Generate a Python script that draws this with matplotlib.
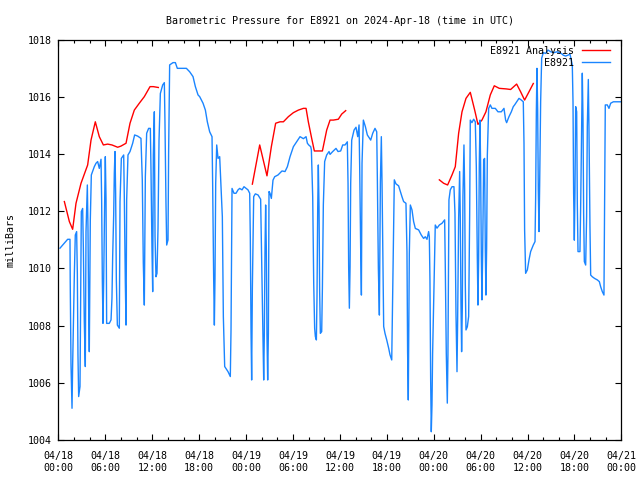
#!/usr/bin/env python3
# barometric pressure plot, gnuplot look-alike
import matplotlib
matplotlib.use("Agg")
import matplotlib.pyplot as plt
import matplotlib.dates as mdates
import numpy as np

START = np.datetime64("2024-04-18T00:00")
END = np.datetime64("2024-04-21T00:00")

# station readings: hours since 04/18 00:00 UTC, pressure in mb
obs_hours = [
    0.19, 1.17, 1.47, 1.50, 1.60, 1.73, 1.81, 2.03, 2.15, 2.32, 2.41, 2.49, 2.58, 2.75, 2.84,
    2.92, 3.09, 3.18, 3.30, 3.43, 3.52, 3.69, 3.77, 3.86, 3.94, 4.07, 4.20, 4.58, 4.80, 5.01,
    5.22, 5.44, 5.52, 5.61, 5.69, 5.78, 5.91, 5.99, 6.08, 6.16, 6.50, 6.72, 6.84, 6.93, 7.06,
    7.14, 7.23, 7.31, 7.40, 7.53, 7.78, 7.87, 8.04, 8.34, 8.42, 8.55, 8.64, 8.72, 8.89, 9.15,
    9.49, 9.74, 10.13, 10.55, 10.72, 10.85, 10.98, 11.11, 11.28, 11.53, 11.75, 11.83, 11.96,
    12.05, 12.13, 12.26, 12.35, 12.47, 12.60, 12.73, 12.86, 13.03, 13.33, 13.54, 13.62, 13.75,
    13.84, 14.01, 14.09, 14.22, 14.65, 14.95, 15.20, 16.36, 16.78, 17.21, 17.51, 17.85, 18.06,
    18.49, 18.79, 19.04, 19.34, 19.64, 19.72, 19.85, 19.94, 20.02, 20.11, 20.24, 20.41, 20.62,
    20.71, 20.96, 21.09, 21.26, 21.69, 21.98, 22.07, 22.20, 22.45, 22.71, 22.97, 23.18, 23.48,
    23.73, 24.24, 24.46, 24.54, 24.63, 24.71, 24.80, 24.97, 25.18, 25.53, 25.86, 25.95, 26.16,
    26.25, 26.33, 26.42, 26.50, 26.59, 26.67, 26.76, 26.85, 26.93, 27.06, 27.23, 27.44, 27.66,
    28.08, 28.59, 28.98, 29.28, 29.62, 30.05, 30.47, 30.90, 31.33, 31.67, 31.84, 32.01, 32.26,
    32.35, 32.52, 32.65, 32.77, 32.86, 32.99, 33.07, 33.16, 33.24, 33.33, 33.41, 33.50, 33.67,
    33.76, 33.88, 34.05, 34.31, 34.61, 34.74, 35.08, 35.50, 35.76, 36.10, 36.36, 36.66, 36.95,
    37.04, 37.12, 37.21, 37.30, 37.38, 37.51, 37.81, 38.06, 38.28, 38.45, 38.53, 38.66, 38.75,
    38.83, 39.00, 39.26, 39.51, 39.94, 40.20, 40.49, 40.71, 40.79, 40.92, 41.05, 41.18, 41.30,
    41.39, 41.52, 41.60, 41.77, 41.99, 42.24, 42.41, 42.63, 42.71, 42.88, 42.96, 43.17, 43.51,
    43.73, 43.94, 44.15, 44.45, 44.58, 44.66, 44.75, 44.88, 45.01, 45.22, 45.43, 45.65, 46.07,
    46.41, 46.71, 46.92, 47.14, 47.35, 47.44, 47.52, 47.61, 47.69, 47.78, 47.86, 47.99, 48.12,
    48.20, 48.42, 48.72, 49.06, 49.40, 49.48, 49.61, 49.74, 49.82, 49.95, 50.12, 50.34, 50.59,
    50.72, 50.85, 50.98, 51.06, 51.19, 51.32, 51.40, 51.49, 51.57, 51.66, 51.74, 51.87, 51.96,
    52.04, 52.13, 52.30, 52.47, 52.60, 52.68, 52.89, 53.11, 53.32, 53.45, 53.58, 53.66, 53.75,
    53.83, 53.92, 54.00, 54.09, 54.17, 54.26, 54.39, 54.51, 54.60, 54.68, 54.77, 54.86, 55.03,
    55.24, 55.45, 55.88, 56.22, 56.65, 56.99, 57.20, 57.33, 57.63, 57.93, 58.18, 58.35, 58.61,
    58.91, 59.21, 59.46, 59.55, 59.63, 59.76, 59.98, 60.19, 60.40, 60.74, 60.96, 61.04, 61.13,
    61.21, 61.30, 61.38, 61.47, 61.55, 61.68, 61.81, 62.02, 62.32, 62.62, 62.96, 63.39, 63.81,
    64.32, 64.58, 64.88, 65.18, 65.43, 65.73, 65.82, 65.90, 65.99, 66.07, 66.16, 66.29, 66.37,
    66.46, 66.71, 66.80, 66.93, 67.01, 67.10, 67.18, 67.27, 67.44, 67.56, 67.65, 67.78, 67.86,
    67.99, 68.08, 68.29, 68.59, 68.93, 69.19, 69.36, 69.57, 69.78, 69.87, 69.95, 70.21, 70.42,
    70.64, 70.98, 71.70, 72.00,
]
obs_mb = [
    1010.71, 1011.02, 1011.02, 1009.54, 1006.63, 1005.11, 1006.63, 1009.83, 1011.17, 1011.29,
    1009.83, 1006.98, 1005.52, 1005.87, 1009.02, 1011.99, 1012.10, 1010.71, 1008.14, 1006.57,
    1011.29, 1012.92, 1011.46, 1008.61, 1007.09, 1011.70, 1013.27, 1013.56, 1013.68, 1013.74,
    1013.50, 1013.82, 1012.40, 1009.54, 1008.08, 1009.54, 1012.45, 1013.91, 1012.45, 1008.08,
    1008.08, 1008.20, 1008.96, 1010.41, 1011.87, 1013.33, 1014.09, 1012.63, 1009.60, 1008.02,
    1007.91, 1012.34, 1013.85, 1013.97, 1012.51, 1009.48, 1008.02, 1012.40, 1013.97, 1014.09,
    1014.38, 1014.67, 1014.63, 1014.55, 1013.10, 1010.18, 1008.72, 1013.21, 1014.73, 1014.90,
    1014.90, 1013.50, 1010.65, 1009.19, 1013.97, 1015.48, 1011.11, 1009.71, 1009.83, 1011.40,
    1014.49, 1016.12, 1016.42, 1016.50, 1015.13, 1012.28, 1010.82, 1011.00, 1014.09, 1017.12,
    1017.20, 1017.20, 1017.00, 1017.00, 1016.88, 1016.71, 1016.36, 1016.07, 1016.01, 1015.78,
    1015.54, 1015.13, 1014.78, 1014.61, 1012.98, 1009.66, 1008.02, 1009.66, 1012.98, 1014.32,
    1013.85, 1013.91, 1013.33, 1011.81, 1008.31, 1006.57, 1006.39, 1006.22, 1007.85, 1012.80,
    1012.63, 1012.63, 1012.75, 1012.80, 1012.75, 1012.86, 1012.75, 1012.63, 1011.05, 1007.79,
    1006.10, 1009.31, 1012.51, 1012.61, 1012.57, 1012.42, 1011.00, 1007.67, 1006.10, 1007.67,
    1010.71, 1012.22, 1010.65, 1007.67, 1006.10, 1007.73, 1012.69, 1012.63, 1012.45, 1013.09,
    1013.21, 1013.27, 1013.41, 1013.39, 1013.56, 1013.91, 1014.26, 1014.43, 1014.61, 1014.54,
    1014.61, 1014.38, 1014.32, 1014.26, 1014.15, 1012.51, 1009.48, 1007.91, 1007.62, 1007.50,
    1009.02, 1012.10, 1013.62, 1012.16, 1009.19, 1007.73, 1007.79, 1009.31, 1012.22, 1013.74,
    1013.97, 1014.09, 1013.99, 1014.09, 1014.20, 1014.09, 1014.11, 1014.32, 1014.32, 1014.43,
    1012.98, 1010.06, 1008.61, 1010.06, 1012.98, 1014.49, 1014.84, 1014.94, 1014.61, 1015.02,
    1013.56, 1010.65, 1009.07, 1013.68, 1015.19, 1014.96, 1014.67, 1014.49, 1014.73, 1014.90,
    1014.78, 1013.15, 1010.00, 1008.37, 1013.03, 1014.61, 1012.98, 1009.66, 1007.97, 1007.73,
    1007.50, 1007.21, 1006.98, 1006.80, 1008.37, 1011.58, 1013.10, 1012.96, 1012.89, 1012.69,
    1012.51, 1012.34, 1012.28, 1010.59, 1007.09, 1005.40, 1010.53, 1012.22, 1012.05, 1011.64,
    1011.40, 1011.35, 1011.17, 1011.05, 1011.11, 1011.02, 1011.29, 1011.11, 1009.60, 1006.10,
    1004.29, 1005.23, 1007.03, 1008.78, 1010.65, 1011.52, 1011.41, 1011.52, 1011.58, 1011.70,
    1010.12, 1007.03, 1005.29, 1006.98, 1012.40, 1012.75, 1012.86, 1012.86, 1011.93, 1008.43,
    1006.39, 1008.14, 1011.75, 1013.39, 1011.81, 1008.72, 1007.09, 1008.66, 1012.51, 1014.32,
    1012.75, 1009.48, 1007.85, 1007.96, 1008.32, 1011.87, 1015.19, 1015.10, 1015.22, 1015.13,
    1013.58, 1010.35, 1008.72, 1010.35, 1013.62, 1015.19, 1013.62, 1010.47, 1008.90, 1010.47,
    1013.80, 1013.85, 1010.65, 1009.07, 1010.71, 1013.97, 1015.60, 1015.72, 1015.60, 1015.60,
    1015.48, 1015.48, 1015.60, 1015.19, 1015.10, 1015.31, 1015.48, 1015.66, 1015.72, 1015.83,
    1015.95, 1015.89, 1015.83, 1014.38, 1011.35, 1009.83, 1009.95, 1010.30, 1010.59, 1010.82,
    1010.94, 1012.45, 1015.48, 1017.00, 1015.54, 1012.75, 1011.29, 1012.86, 1015.83, 1017.35,
    1017.55, 1017.52, 1017.64, 1017.58, 1017.55, 1017.58, 1017.52, 1017.46, 1017.43, 1017.46,
    1017.50, 1017.12, 1015.83, 1012.63, 1010.99, 1012.63, 1015.66, 1015.48, 1012.28, 1010.59,
    1010.59, 1012.16, 1015.25, 1016.83, 1015.19, 1011.93, 1010.24, 1010.12, 1011.81, 1014.96,
    1016.61, 1014.96, 1011.46, 1009.77, 1009.71, 1009.65, 1009.60, 1009.54, 1009.36, 1009.19,
    1009.07, 1012.40, 1015.72, 1015.72, 1015.60, 1015.78, 1015.83, 1015.83, 1015.83,
]

# analysis values (nan = no analysis)
ana_hours = [
    0.75, 1.39, 1.81, 2.24, 2.88, 3.73, 4.16, 4.71, 5.22, 5.74, 6.29, 6.84, 7.57, 7.99, 8.64,
    9.15, 9.70, 10.34, 10.98, 11.71, 12.13, 12.77, 13.0,
    24.80, 25.74, 26.67, 27.23, 27.78, 28.34, 28.77, 29.41, 30.05, 30.69, 31.33, 31.67, 31.96,
    32.39, 32.73, 33.24, 33.76, 34.31, 34.74, 35.16, 35.80, 36.23, 36.74, 37.0,
    48.72, 49.27, 49.78, 50.34, 50.76, 51.19, 51.62, 52.13, 52.68, 53.24, 53.66, 54.17, 54.68,
    55.24, 55.75, 56.39, 57.29, 57.84, 58.61, 59.12, 59.63, 60.19, 60.74,
]
ana_mb = [
    1012.34, 1011.64, 1011.37, 1012.28, 1012.98, 1013.62, 1014.49, 1015.13, 1014.61, 1014.32,
    1014.35, 1014.32, 1014.24, 1014.28, 1014.38, 1015.08, 1015.54, 1015.78, 1016.01, 1016.36,
    1016.36, 1016.33, np.nan,
    1012.95, 1014.32, 1013.24, 1014.26, 1015.08, 1015.13, 1015.13, 1015.31, 1015.45, 1015.54,
    1015.60, 1015.60, 1015.13, 1014.55, 1014.11, 1014.11, 1014.11, 1014.84, 1015.19, 1015.19,
    1015.22, 1015.40, 1015.52, np.nan,
    1013.10, 1012.98, 1012.92, 1013.27, 1013.56, 1014.73, 1015.48, 1015.95, 1016.16, 1015.54,
    1015.04, 1015.19, 1015.48, 1016.07, 1016.39, 1016.30, 1016.28, 1016.26, 1016.45, 1016.18,
    1015.89, 1016.18, 1016.47,
]

series_labels = ["E8921 Analysis", "E8921"]
title = "Barometric Pressure for E8921 on 2024-Apr-18 (time in UTC)"
ylabel = "milliBars"
y_ticks = [1004, 1006, 1008, 1010, 1012, 1014, 1016, 1018]


def to_time(hours):
    secs = np.round(np.asarray(hours) * 3600).astype("int64")
    return START + secs.astype("timedelta64[s]")


plt.rcParams["font.family"] = ["DejaVu Sans Mono"]
plt.rcParams["font.size"] = 7.2

fig = plt.figure(figsize=(6.4, 4.8), dpi=100)
ax = fig.add_axes([0.0914, 0.0833, 0.8794, 0.8339])

ax.plot(to_time(ana_hours), ana_mb, color="#ff0000", lw=1.0, label=series_labels[0])
ax.plot(to_time(obs_hours), obs_mb, color="#1a85ff", lw=1.0, label=series_labels[1])

ax.set_xlim(START, END)
ax.set_ylim(1004, 1018)
ax.set_yticks(y_ticks)

ax.xaxis.set_major_locator(mdates.HourLocator(byhour=range(0, 24, 6)))
ax.xaxis.set_minor_locator(mdates.HourLocator(byhour=range(0, 24, 2)))
ax.xaxis.set_major_formatter(mdates.DateFormatter("%m/%d\n%H:%M"))

ax.tick_params(which="both", direction="in", top=True, right=True, width=0.8, colors="black")
ax.tick_params(which="major", length=4, pad=5)
ax.tick_params(axis="x", which="major", pad=8)
ax.tick_params(which="minor", length=2.5)
for s in ax.spines.values():
    s.set_linewidth(0.9)

ax.set_title(title, fontsize=7.2, pad=11)
ax.set_ylabel(ylabel, labelpad=9)

ax.legend(loc="upper right", bbox_to_anchor=(0.980, 0.985), frameon=False, markerfirst=False,
          handlelength=2.8, handletextpad=0.8, labelspacing=0.2, borderaxespad=0.0,
          borderpad=0.0)

fig.savefig("out.png", dpi=100)
